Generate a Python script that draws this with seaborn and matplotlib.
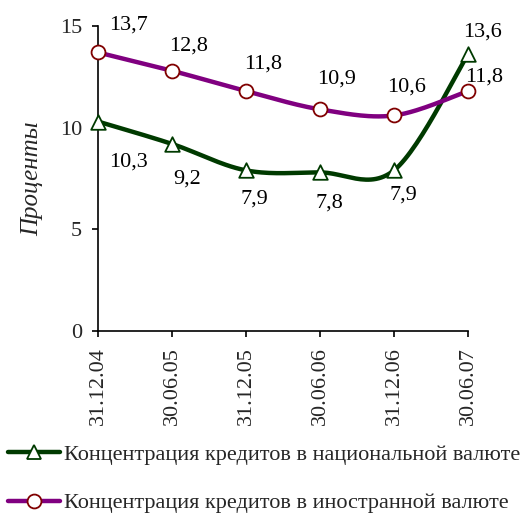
import numpy as np
import pandas as pd
import matplotlib
matplotlib.use("Agg")
import matplotlib.pyplot as plt
import seaborn as sns
from matplotlib.lines import Line2D

dates = ["31.12.04", "30.06.05", "31.12.05", "30.06.06", "31.12.06", "30.06.07"]
national = [10.3, 9.2, 7.9, 7.8, 7.9, 13.6]
foreign = [13.7, 12.8, 11.8, 10.9, 10.6, 11.8]
name_nat = "Концентрация кредитов в национальной валюте"
name_for = "Концентрация кредитов в иностранной валюте"
yticks = [0, 5, 10, 15]

sns.set_theme(style="white")
plt.rcParams["font.family"] = ["Liberation Serif", "DejaVu Serif"]

FS = 16
GREEN = "#003a00"
PURPLE = "#800080"
RED = "#800000"

fig = plt.figure(figsize=(5.25, 5.15), dpi=100)
ax = fig.add_axes([98/525, 184/515, 370/525, 305/515])

def smooth(y, n=30):
    # Catmull-Rom style smoothing (like spreadsheet "smoothed line")
    y = np.asarray(y, float)
    x = np.arange(len(y), dtype=float)
    P = np.column_stack([x, y])
    P = np.vstack([P[0], P, P[-1]])
    out = []
    for i in range(1, len(P) - 2):
        p0, p1, p2, p3 = P[i-1], P[i], P[i+1], P[i+2]
        c1 = p1 + (p2 - p0) / 6
        c2 = p2 - (p3 - p1) / 6
        t = np.linspace(0, 1, n)[:, None]
        seg = (1-t)**3*p1 + 3*(1-t)**2*t*c1 + 3*(1-t)*t**2*c2 + t**3*p2
        out.append(seg if i == 1 else seg[1:])
    out = np.vstack(out)
    return out[:, 0], out[:, 1]

xs = np.arange(len(dates))
df = pd.DataFrame({"x": xs, "nat": national, "for": foreign})

for col, c in [("nat", GREEN), ("for", PURPLE)]:
    sx, sy = smooth(df[col].values)
    sns.lineplot(x=sx, y=sy, ax=ax, color=c, lw=3.2, sort=False, clip_on=False, zorder=3)

sns.scatterplot(data=df, x="x", y="nat", ax=ax, marker="^", s=110, color="white",
                edgecolor=GREEN, linewidth=1.3, clip_on=False, zorder=5)
sns.scatterplot(data=df, x="x", y="for", ax=ax, marker="o", s=100, color="white",
                edgecolor=RED, linewidth=1.3, clip_on=False, zorder=5)

def fmt(v):
    return f"{v:.1f}".replace(".", ",")

nat_off = [(30, -40), (15, -35), (8, -29), (9, -31), (9, -25), (14, 22)]
for_off = [(30, 27), (17, 25), (17, 27), (17, 30), (13, 28), (16, 14)]
for i in range(len(dates)):
    ax.annotate(fmt(national[i]), (xs[i], national[i]), xytext=nat_off[i],
                textcoords="offset pixels", ha="center", va="center", fontsize=FS, color="black")
    ax.annotate(fmt(foreign[i]), (xs[i], foreign[i]), xytext=for_off[i],
                textcoords="offset pixels", ha="center", va="center", fontsize=FS, color="black")

ax.set_xlim(0, len(dates) - 1)
ax.set_ylim(0, 15)
ax.set_xticks(xs)
ax.set_xticklabels(dates, rotation=90, fontsize=FS)
ax.set_yticks(yticks)
ax.set_yticklabels([str(t) for t in yticks], fontsize=FS)
ax.set_xlabel("")
ax.set_ylabel("Проценты", fontsize=18, style="italic", labelpad=12)
for s in ["top", "right"]:
    ax.spines[s].set_visible(False)
for s in ["left", "bottom"]:
    ax.spines[s].set_color("black")
    ax.spines[s].set_linewidth(1.2)
ax.tick_params(axis="both", which="major", direction="out", length=4.5, width=1.2,
               color="black", left=True, bottom=True, pad=7)
ax.grid(False)

handles = [
    Line2D([], [], color=GREEN, lw=3.2, marker="^", markersize=10, markerfacecolor="white",
           markeredgecolor=GREEN, markeredgewidth=1.3),
    Line2D([], [], color=PURPLE, lw=3.2, marker="o", markersize=10, markerfacecolor="white",
           markeredgecolor=RED, markeredgewidth=1.3),
]
fig.legend(handles, [name_nat, name_for], loc="lower left", bbox_to_anchor=(0.0, -0.012),
           frameon=False, fontsize=FS, handlelength=2.35, handletextpad=0.2,
           labelspacing=1.25, borderaxespad=0.15, borderpad=0.2)

fig.savefig("out.png", dpi=100)
